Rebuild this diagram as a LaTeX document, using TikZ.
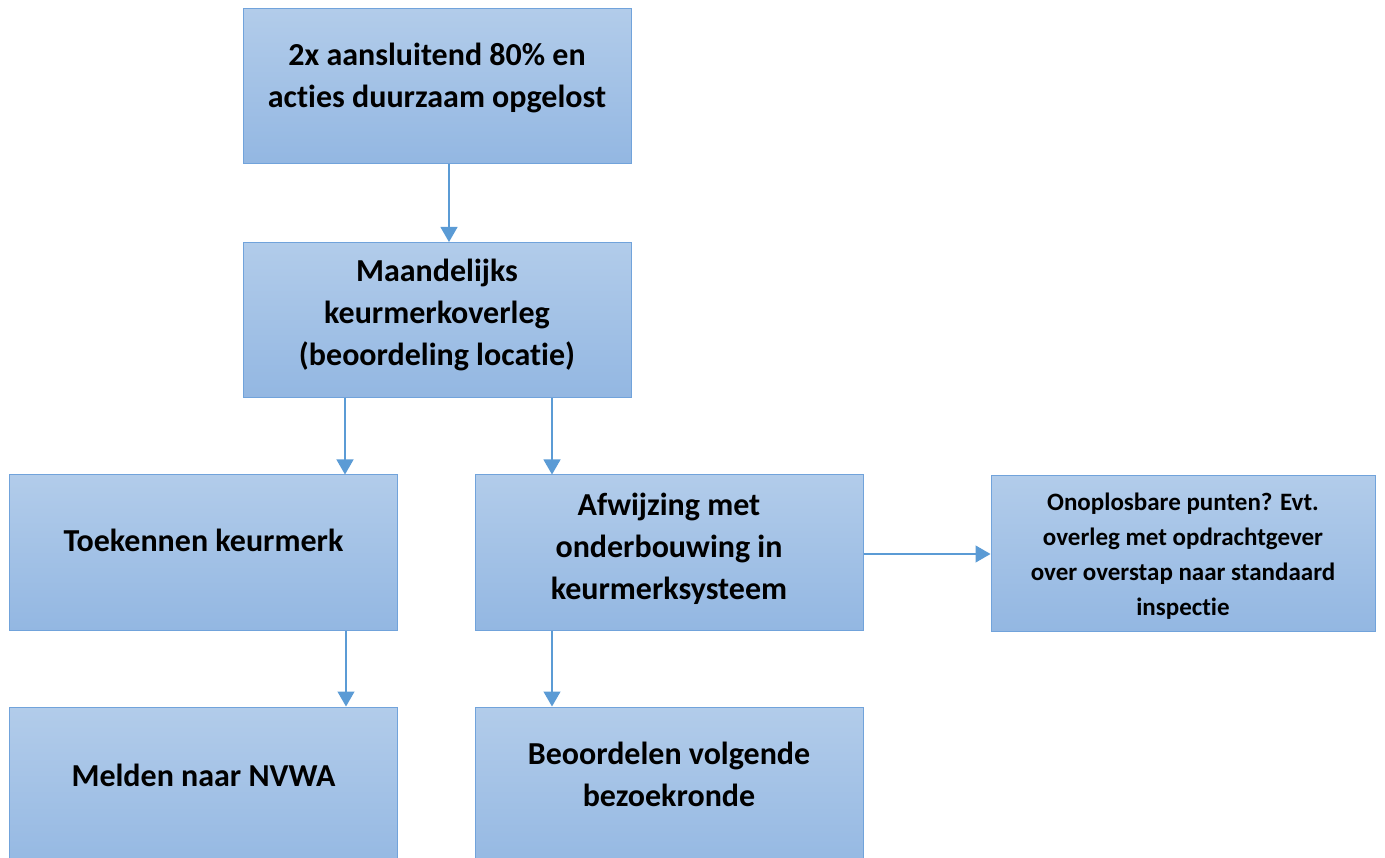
\documentclass[tikz,border=0pt]{standalone}
\usepackage{fontspec}
\setmainfont{Carlito}[Ligatures=NoCommon]
\usetikzlibrary{arrows.meta}
\definecolor{boxtop}{HTML}{B2CCEA}
\definecolor{boxbot}{HTML}{93B7E2}
\definecolor{boxline}{HTML}{71A3DB}
\definecolor{arrcol}{HTML}{5B9BD5}
\tikzset{
  box/.style={rectangle, draw=boxline, line width=1pt, top color=boxtop, bottom color=boxbot, minimum width=388pt, minimum height=155pt, inner sep=0pt},
  big/.style={align=center, font=\fontsize{32}{42}\selectfont\bfseries, inner sep=0pt},
  small/.style={align=center, font=\fontsize{25}{35}\selectfont\bfseries, inner sep=0pt},
  arr/.style={draw=arrcol, line width=1.2pt, -{Triangle[width=17pt,length=15pt]}, arrcol},
}
\begin{document}
\begin{tikzpicture}[x=1pt,y=-1pt]
\useasboundingbox (0,0) rectangle (1385,858);
\clip (0,0) rectangle (1385,858);
\node[box] (b1) at (437,86.5) {};
\node[box] (b2) at (437,320) {};
\node[box] (b3) at (203.5,552.5) {};
\node[box] (b4) at (669,552.5) {};
\node[box, minimum width=384pt] (b5) at (1183,553.5) {};
\node[box, minimum height=170pt] (b6) at (203.5,792) {};
\node[box, minimum height=170pt] (b7) at (669,792) {};

\node[big] (t1) at (437,78) {2x aansluitend 80\% en\\acties duurzaam opgelost};
\node[big] (t2) at (437,315) {Maandelijks\\keurmerkoverleg\\(beoordeling locatie)};
\node[big] (t3) at (203.5,540) {Toekennen keurmerk};
\node[big] (t4) at (669,549) {Afwijzing met\\onderbouwing in\\keurmerksysteem};
\node[small] (t5) at (1183,556) {Onoplosbare punten? Evt.\\overleg met opdrachtgever\\over overstap naar standaard\\inspectie};
\node[big] (t6) at (203.5,775) {Melden naar NVWA};
\node[big] (t7) at (669,774) {Beoordelen volgende\\bezoekronde};

\draw[arr] ([xshift=12pt]b1.south) -- ([xshift=12pt]b2.north);
\draw[arr] ([xshift=-92pt]b2.south) -- ([xshift=-92pt]b2.south |- b3.north);
\draw[arr] ([xshift=115pt]b2.south) -- ([xshift=115pt]b2.south |- b4.north);
\draw[arr] ([xshift=142.5pt]b3.south) -- ([xshift=142.5pt]b3.south |- b6.north);
\draw[arr] ([xshift=-117pt]b4.south) -- ([xshift=-117pt]b4.south |- b7.north);
\draw[arr] ([yshift=-1.5pt]b4.east) -- ([yshift=-1.5pt]b4.east -| b5.west);
\end{tikzpicture}
\end{document}
